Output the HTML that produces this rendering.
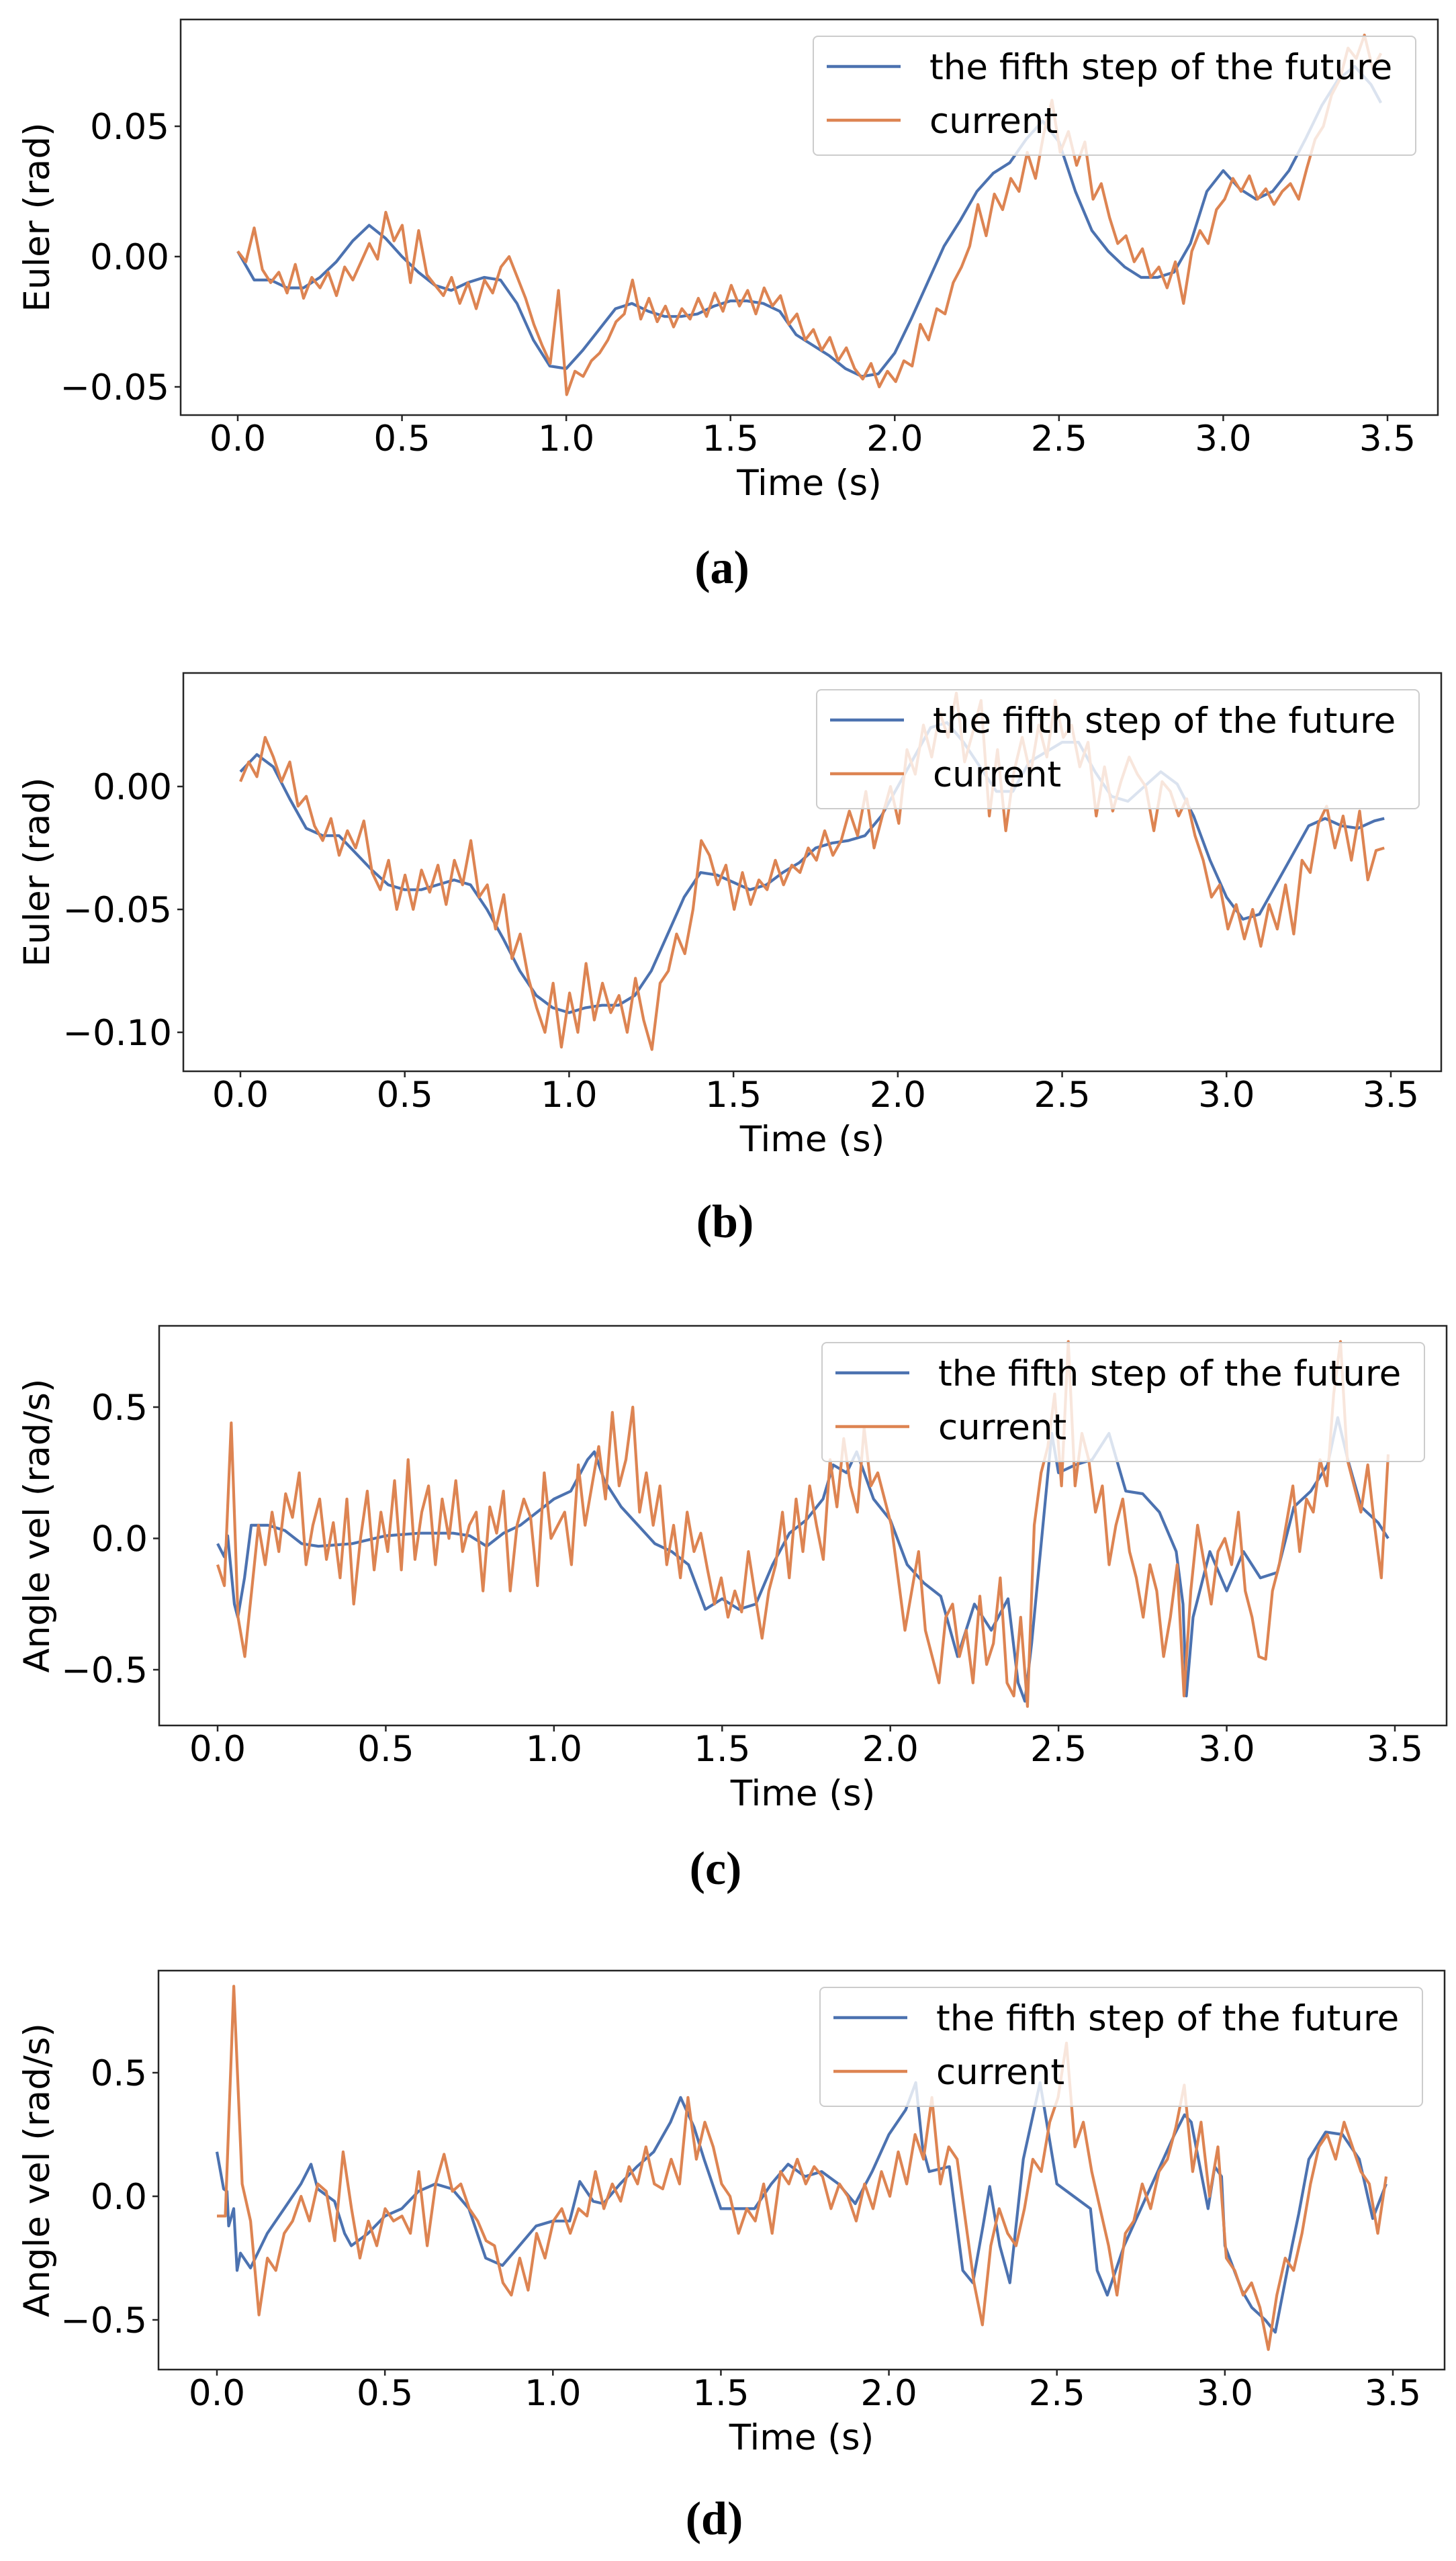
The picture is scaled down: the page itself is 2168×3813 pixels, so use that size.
<!DOCTYPE html>
<html><head><meta charset="utf-8">
<style>
html,body{margin:0;padding:0;background:#fff;}
svg{display:block;}
.tk{font-family:"DejaVu Sans","Liberation Sans",sans-serif;font-size:53px;fill:#000;}
.cap{font-family:"Liberation Serif",serif;font-size:70px;font-weight:bold;fill:#000;}
</style></head>
<body>
<svg id="fig" width="2168" height="3813" viewBox="0 0 2168 3813" xmlns="http://www.w3.org/2000/svg"></svg>
<script>
// ---- shared ticks ----
const xTicks = [0, 0.5, 1.0, 1.5, 2.0, 2.5, 3.0, 3.5];
const xTickLabels = ["0.0","0.5","1.0","1.5","2.0","2.5","3.0","3.5"];
const seriesNames = ["the fifth step of the future", "current"];
const tEnd = 3.48;

// ---- panel a ----
const aYTicks = [0.05, 0.00, -0.05];
const aYTickLabels = ["0.05","0.00","\u22120.05"];
const aBlueT = [0,0.05,0.1,0.15,0.2,0.25,0.3,0.35,0.4,0.45,0.5,0.55,0.6,0.65,0.7,0.75,0.8,0.85,0.9,0.95,1.0,1.05,1.1,1.15,1.2,1.25,1.3,1.35,1.4,1.45,1.5,1.55,1.6,1.65,1.7,1.75,1.8,1.85,1.9,1.95,2.0,2.05,2.1,2.15,2.2,2.25,2.3,2.35,2.4,2.45,2.5,2.55,2.6,2.65,2.7,2.75,2.8,2.85,2.9,2.95,3.0,3.05,3.1,3.15,3.2,3.25,3.3,3.35,3.4,3.45,3.48];
const aBlueV = [0.002,-0.009,-0.009,-0.012,-0.012,-0.008,-0.002,0.006,0.012,0.007,0.000,-0.006,-0.011,-0.013,-0.010,-0.008,-0.009,-0.018,-0.032,-0.042,-0.043,-0.036,-0.028,-0.020,-0.018,-0.021,-0.023,-0.023,-0.022,-0.019,-0.017,-0.017,-0.018,-0.021,-0.030,-0.034,-0.038,-0.043,-0.046,-0.045,-0.037,-0.024,-0.010,0.004,0.014,0.025,0.032,0.036,0.045,0.052,0.044,0.025,0.010,0.002,-0.004,-0.008,-0.008,-0.006,0.005,0.025,0.033,0.026,0.022,0.025,0.033,0.045,0.058,0.068,0.073,0.066,0.059];
const aOrangeV = [0.002,-0.002,0.011,-0.005,-0.010,-0.006,-0.014,-0.003,-0.016,-0.008,-0.012,-0.006,-0.015,-0.004,-0.009,-0.002,0.005,-0.001,0.017,0.006,0.012,-0.010,0.010,-0.007,-0.011,-0.015,-0.008,-0.018,-0.010,-0.020,-0.009,-0.014,-0.004,0.000,-0.008,-0.016,-0.026,-0.034,-0.041,-0.013,-0.053,-0.044,-0.046,-0.040,-0.037,-0.032,-0.025,-0.022,-0.009,-0.024,-0.016,-0.025,-0.019,-0.027,-0.020,-0.024,-0.016,-0.023,-0.014,-0.021,-0.011,-0.019,-0.013,-0.022,-0.012,-0.019,-0.015,-0.026,-0.022,-0.032,-0.028,-0.036,-0.031,-0.040,-0.035,-0.043,-0.047,-0.041,-0.050,-0.044,-0.048,-0.040,-0.042,-0.026,-0.032,-0.020,-0.022,-0.010,-0.004,0.004,0.020,0.008,0.024,0.018,0.030,0.025,0.040,0.030,0.047,0.060,0.040,0.048,0.035,0.044,0.022,0.028,0.015,0.005,0.008,-0.002,0.003,-0.008,-0.004,-0.012,-0.002,-0.018,0.002,0.010,0.005,0.018,0.022,0.030,0.025,0.031,0.022,0.026,0.020,0.025,0.028,0.022,0.034,0.045,0.050,0.062,0.068,0.080,0.076,0.085,0.072,0.078];

// ---- panel b ----
const bYTicks = [0.00, -0.05, -0.10];
const bYTickLabels = ["0.00","\u22120.05","\u22120.10"];
const bBlueT = aBlueT;
const bBlueV = [0.006,0.013,0.008,-0.005,-0.017,-0.020,-0.020,-0.027,-0.034,-0.040,-0.042,-0.042,-0.040,-0.038,-0.040,-0.050,-0.062,-0.075,-0.085,-0.090,-0.092,-0.090,-0.089,-0.089,-0.085,-0.075,-0.060,-0.045,-0.035,-0.036,-0.039,-0.042,-0.040,-0.035,-0.031,-0.025,-0.023,-0.022,-0.020,-0.012,0.000,0.012,0.024,0.026,0.018,0.008,-0.002,-0.002,0.010,0.014,0.018,0.018,0.006,-0.004,-0.006,0.000,0.006,0.001,-0.012,-0.030,-0.045,-0.054,-0.052,-0.040,-0.028,-0.016,-0.013,-0.016,-0.017,-0.014,-0.013];
const bOrangeV = [0.002,0.010,0.004,0.020,0.012,0.002,0.010,-0.008,-0.004,-0.016,-0.022,-0.013,-0.028,-0.018,-0.025,-0.014,-0.035,-0.042,-0.030,-0.050,-0.036,-0.050,-0.034,-0.043,-0.032,-0.048,-0.030,-0.040,-0.022,-0.045,-0.040,-0.058,-0.044,-0.070,-0.060,-0.078,-0.090,-0.100,-0.080,-0.106,-0.084,-0.100,-0.072,-0.095,-0.080,-0.092,-0.085,-0.100,-0.078,-0.095,-0.107,-0.080,-0.075,-0.060,-0.068,-0.050,-0.022,-0.028,-0.040,-0.032,-0.050,-0.035,-0.048,-0.038,-0.042,-0.030,-0.040,-0.032,-0.035,-0.025,-0.030,-0.018,-0.028,-0.022,-0.010,-0.020,-0.002,-0.025,-0.012,0.000,-0.015,0.015,0.005,0.025,0.012,0.030,0.020,0.038,0.010,0.022,0.035,-0.012,0.015,-0.018,0.006,0.020,0.005,0.025,0.012,0.035,0.020,0.025,0.008,0.018,-0.012,0.008,-0.010,0.002,0.012,0.005,0.000,-0.018,0.002,-0.002,-0.012,-0.005,-0.020,-0.030,-0.045,-0.040,-0.058,-0.048,-0.062,-0.050,-0.065,-0.048,-0.058,-0.040,-0.060,-0.030,-0.035,-0.015,-0.008,-0.025,-0.012,-0.030,-0.010,-0.038,-0.026,-0.025];

// ---- panel c ----
const cYTicks = [0.5, 0.0, -0.5];
const cYTickLabels = ["0.5","0.0","\u22120.5"];
const cBlueT = [0,0.02,0.03,0.05,0.06,0.08,0.1,0.15,0.2,0.25,0.3,0.4,0.5,0.6,0.7,0.75,0.8,0.85,0.9,1.0,1.05,1.1,1.12,1.15,1.2,1.25,1.3,1.35,1.4,1.45,1.5,1.55,1.6,1.65,1.7,1.75,1.8,1.83,1.87,1.9,1.95,2.0,2.05,2.1,2.15,2.2,2.25,2.3,2.35,2.38,2.4,2.42,2.45,2.48,2.5,2.55,2.6,2.65,2.7,2.75,2.8,2.85,2.87,2.88,2.9,2.95,3.0,3.05,3.1,3.15,3.2,3.25,3.3,3.33,3.36,3.4,3.45,3.48];
const cBlueV = [-0.02,-0.07,0.01,-0.25,-0.30,-0.15,0.05,0.05,0.03,-0.02,-0.03,-0.02,0.01,0.02,0.02,0.01,-0.03,0.02,0.05,0.15,0.18,0.30,0.33,0.22,0.12,0.05,-0.02,-0.05,-0.10,-0.27,-0.23,-0.27,-0.25,-0.10,0.02,0.07,0.15,0.28,0.25,0.33,0.15,0.07,-0.10,-0.17,-0.22,-0.45,-0.25,-0.35,-0.23,-0.55,-0.62,-0.40,0.00,0.40,0.25,0.28,0.30,0.40,0.18,0.17,0.10,-0.05,-0.25,-0.60,-0.30,-0.05,-0.20,-0.05,-0.15,-0.13,0.12,0.18,0.28,0.46,0.30,0.12,0.06,0.00];
const cOrangeV = [-0.10,-0.18,0.44,-0.30,-0.45,-0.20,0.05,-0.10,0.10,-0.05,0.17,0.08,0.25,-0.10,0.05,0.15,-0.08,0.06,-0.15,0.15,-0.25,0.00,0.18,-0.12,0.10,-0.05,0.22,-0.12,0.30,-0.08,0.10,0.20,-0.10,0.15,0.00,0.22,-0.05,0.05,0.10,-0.20,0.12,0.02,0.18,-0.20,0.05,0.15,0.08,-0.18,0.25,0.00,0.05,0.10,-0.10,0.28,0.05,0.20,0.35,0.15,0.48,0.20,0.30,0.50,0.10,0.25,0.05,0.20,-0.10,0.05,-0.15,0.10,-0.05,0.02,-0.12,-0.25,-0.15,-0.30,-0.20,-0.28,-0.05,-0.22,-0.38,-0.20,-0.10,0.10,-0.15,0.15,-0.05,0.20,0.05,-0.08,0.30,0.12,0.38,0.20,0.10,0.42,0.20,0.25,0.15,0.05,-0.15,-0.35,-0.20,-0.05,-0.35,-0.45,-0.55,-0.30,-0.25,-0.45,-0.35,-0.55,-0.22,-0.48,-0.40,-0.15,-0.55,-0.60,-0.30,-0.64,0.05,0.25,0.35,0.55,0.20,0.75,0.20,0.40,0.30,0.10,0.20,-0.10,0.05,0.15,-0.05,-0.15,-0.30,-0.10,-0.20,-0.45,-0.30,-0.10,-0.60,-0.20,0.05,-0.10,-0.25,-0.05,0.00,-0.10,0.10,-0.20,-0.30,-0.45,-0.46,-0.20,-0.10,0.05,0.20,-0.05,0.15,0.10,0.30,0.20,0.55,0.75,0.30,0.20,0.10,0.28,0.05,-0.15,0.32];

// ---- panel d ----
const dYTicks = [0.5, 0.0, -0.5];
const dYTickLabels = ["0.5","0.0","\u22120.5"];
const dBlueT = [0,0.02,0.03,0.035,0.05,0.06,0.07,0.1,0.15,0.2,0.25,0.28,0.3,0.35,0.38,0.4,0.45,0.5,0.55,0.6,0.65,0.7,0.75,0.8,0.85,0.9,0.95,1.0,1.05,1.08,1.12,1.15,1.2,1.25,1.3,1.35,1.38,1.42,1.45,1.5,1.55,1.6,1.65,1.7,1.75,1.8,1.85,1.9,1.95,2.0,2.05,2.08,2.1,2.12,2.18,2.22,2.25,2.28,2.3,2.33,2.36,2.4,2.45,2.5,2.55,2.6,2.62,2.65,2.7,2.75,2.8,2.85,2.88,2.9,2.95,2.97,2.99,3.0,3.05,3.08,3.12,3.15,3.2,3.22,3.25,3.3,3.35,3.4,3.44,3.48];
const dBlueV = [0.18,0.03,0.02,-0.12,-0.05,-0.30,-0.23,-0.29,-0.15,-0.05,0.05,0.13,0.03,-0.02,-0.15,-0.20,-0.15,-0.08,-0.05,0.02,0.05,0.03,-0.05,-0.25,-0.28,-0.20,-0.12,-0.10,-0.10,0.06,-0.02,-0.03,0.05,0.12,0.18,0.30,0.40,0.28,0.15,-0.05,-0.05,-0.05,0.05,0.13,0.08,0.10,0.05,-0.03,0.10,0.25,0.35,0.46,0.20,0.10,0.12,-0.30,-0.35,-0.12,0.04,-0.20,-0.35,0.15,0.46,0.05,0.00,-0.05,-0.30,-0.40,-0.20,-0.05,0.10,0.25,0.33,0.30,-0.05,0.12,0.08,-0.20,-0.38,-0.45,-0.50,-0.55,-0.20,-0.07,0.15,0.26,0.25,0.15,-0.09,0.05];
const dOrangeV = [-0.08,-0.08,0.85,0.05,-0.10,-0.48,-0.25,-0.30,-0.15,-0.10,0.00,-0.10,0.05,0.02,-0.18,0.18,-0.05,-0.25,-0.10,-0.20,-0.05,-0.10,-0.08,-0.15,0.10,-0.20,0.05,0.17,0.02,0.05,-0.05,-0.10,-0.18,-0.20,-0.35,-0.40,-0.25,-0.38,-0.15,-0.25,-0.10,-0.05,-0.15,-0.05,-0.08,0.10,-0.05,0.05,-0.02,0.12,0.05,0.20,0.05,0.03,0.15,0.05,0.40,0.15,0.30,0.20,0.05,0.00,-0.15,-0.05,-0.10,0.05,-0.15,0.10,0.05,0.15,0.05,0.12,0.08,-0.05,0.05,0.00,-0.10,0.05,-0.05,0.10,0.00,0.18,0.05,0.25,0.15,0.40,0.05,0.20,0.15,-0.10,-0.35,-0.52,-0.20,-0.05,-0.15,-0.20,-0.05,0.15,0.10,0.30,0.40,0.62,0.20,0.30,0.10,-0.05,-0.20,-0.40,-0.15,-0.10,0.05,-0.05,0.10,0.15,0.28,0.45,0.10,0.30,0.00,0.20,-0.25,-0.30,-0.40,-0.35,-0.45,-0.62,-0.40,-0.25,-0.30,-0.15,0.05,0.20,0.25,0.15,0.30,0.20,0.10,0.05,-0.15,0.08];

const NS = "http://www.w3.org/2000/svg";
const fig = document.getElementById('fig');
function mk(tag, attrs, parent){
  const e = document.createElementNS(NS, tag);
  for (const k in attrs) e.setAttribute(k, attrs[k]);
  (parent||fig).appendChild(e);
  return e;
}
const BLUE = "#4c72b0", ORANGE = "#dd8452";

function panel(cfg){
  const {id, left, right, top, bottom, x0, x35, yA, yApx, yB, yBpx, yTicks, yLabels, ylabel, blueT, blueV, orangeV, caption, capY} = cfg;
  const sx = v => x0 + (x35 - x0) * v / 3.5;
  const sy = v => yApx + (yBpx - yApx) * (v - yA) / (yB - yA);
  const g = mk('g', {});
  
  
  const cp = mk('clipPath', {id: 'clip-' + id}, g);
  mk('rect', {x: left, y: top, width: right - left, height: bottom - top}, cp);
  const plot = mk('g', {'clip-path': 'url(#clip-' + id + ')'}, g);
  
  
  // blue line
  let d = '';
  for (let i = 0; i < blueV.length; i++) d += (i ? 'L' : 'M') + sx(blueT[i]).toFixed(1) + ',' + sy(blueV[i]).toFixed(1);
  const bl = mk('path', {d: d, fill: 'none', stroke: BLUE, 'stroke-width': 4.2, 'stroke-linejoin': 'round'}, plot);
  
  
  // orange line
  d = '';
  const n = orangeV.length, dt = tEnd / (n - 1);
  for (let i = 0; i < n; i++) d += (i ? 'L' : 'M') + sx(i * dt).toFixed(1) + ',' + sy(orangeV[i]).toFixed(1);
  const ol = mk('path', {d: d, fill: 'none', stroke: ORANGE, 'stroke-width': 4.2, 'stroke-linejoin': 'round'}, plot);
  
  
  // frame
  const fr = mk('rect', {x: left, y: top, width: right - left, height: bottom - top, fill: 'none', stroke: '#262626', 'stroke-width': 2.5}, g);
  
  
  // x ticks
  xTicks.forEach((v, i) => {
    const x = sx(v);
    const t = mk('line', {x1: x, x2: x, y1: bottom, y2: bottom + 9, stroke: '#262626', 'stroke-width': 2.5}, g);
    
    
    const lb = mk('text', {x: x, y: bottom + 53, 'text-anchor': 'middle', class: 'tk'}, g);
    
    
    lb.textContent = xTickLabels[i];
  });
  // y ticks
  yTicks.forEach((v, i) => {
    const y = sy(v);
    const t = mk('line', {x1: left - 9, x2: left, y1: y, y2: y, stroke: '#262626', 'stroke-width': 2.5}, g);
    
    
    const lb = mk('text', {x: left - 17, y: y + 19, 'text-anchor': 'end', class: 'tk'}, g);
    
    
    lb.textContent = yLabels[i];
  });
  // axis titles
  const xt = mk('text', {x: (left + right) / 2, y: bottom + 119, 'text-anchor': 'middle', class: 'tk'}, g);
  
  
  xt.textContent = 'Time (s)';
  const cy = (top + bottom) / 2;
  const yt = mk('text', {x: 73, y: cy, 'text-anchor': 'middle', class: 'tk', transform: 'rotate(-90 73 ' + cy + ')'}, g);
  
  
  yt.textContent = ylabel;
  // legend
  const lx = right - 930, ly = top + 25;
  const lg = mk('g', {}, g);
  
  
  mk('rect', {x: lx, y: ly, width: 897, height: 177, rx: 7, fill: '#ffffff', 'fill-opacity': 0.8, stroke: '#cccccc', 'stroke-width': 2}, lg);
  [BLUE, ORANGE].forEach((c, i) => {
    const yy = ly + 45 + i * 80;
    const ent = mk('g', {}, lg);
    
    
    mk('line', {x1: lx + 20, x2: lx + 130, y1: yy, y2: yy, stroke: c, 'stroke-width': 4.5}, ent);
    const tx = mk('text', {x: lx + 173, y: yy + 19, class: 'tk'}, ent);
    tx.textContent = seriesNames[i];
  });
  // caption
  const cap = mk('text', {x: (left + right) / 2 - 130, y: capY, 'text-anchor': 'middle', class: 'cap'}, fig);
  
  
  cap.textContent = caption;
}

panel({id:'a', left:269, right:2141, top:29, bottom:618, x0:354, x35:2066, yA:0.05, yApx:188, yB:-0.05, yBpx:576, yTicks:aYTicks, yLabels:aYTickLabels, ylabel:'Euler (rad)', blueT:aBlueT, blueV:aBlueV, orangeV:aOrangeV, caption:'(a)', capY:868});
panel({id:'b', left:273, right:2146, top:1002, bottom:1595, x0:358, x35:2071, yA:0.0, yApx:1171, yB:-0.10, yBpx:1537, yTicks:bYTicks, yLabels:bYTickLabels, ylabel:'Euler (rad)', blueT:bBlueT, blueV:bBlueV, orangeV:bOrangeV, caption:'(b)', capY:1842});
panel({id:'c', left:237, right:2154, top:1974, bottom:2569, x0:324, x35:2077, yA:0.5, yApx:2095, yB:-0.5, yBpx:2486, yTicks:cYTicks, yLabels:cYTickLabels, ylabel:'Angle vel (rad/s)', blueT:cBlueT, blueV:cBlueV, orangeV:cOrangeV, caption:'(c)', capY:2805});
panel({id:'d', left:236, right:2151, top:2934, bottom:3528, x0:323, x35:2074, yA:0.5, yApx:3086, yB:-0.5, yBpx:3454, yTicks:dYTicks, yLabels:dYTickLabels, ylabel:'Angle vel (rad/s)', blueT:dBlueT, blueV:dBlueV, orangeV:dOrangeV, caption:'(d)', capY:3773});
</script>
</body></html>
